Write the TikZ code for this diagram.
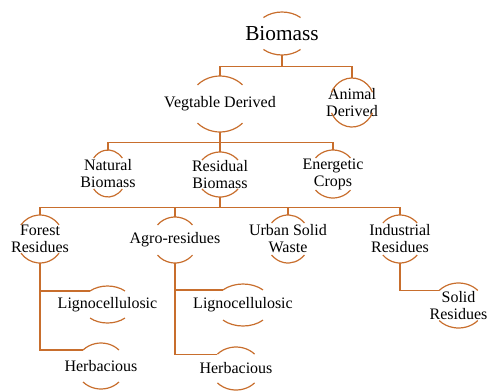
\documentclass[tikz,border=0pt]{standalone}
\usepackage{fontspec}
\setmainfont{Liberation Serif}

\definecolor{brk}{RGB}{200,110,45}
\tikzset{
  part/.style={inner sep=0pt, align=center, font=\fontsize{12}{12.75}\selectfont},
  halfh/.style={minimum height=1.5*#1pt},
  ring/.style={draw=brk, line width=0.9pt},
  link/.style={draw=brk, line width=0.9pt},
}
% node name, x radius, y radius, angle
\newcommand{\halfrings}[4]{%
  \draw[ring] (#1.center) ++(#4:#2 and #3) arc[start angle=#4, end angle=180-#4, x radius=#2, y radius=#3];
  \draw[ring] (#1.center) ++(-#4:#2 and #3) arc[start angle=-#4, end angle=-180+#4, x radius=#2, y radius=#3];
  \path (#1.center) ++(180+#4:#2 and #3) coordinate (#1-in);}

\begin{document}
\begin{tikzpicture}[x=0.75pt,y=0.75pt,yscale=-1,xscale=1]
\useasboundingbox (0,0) rectangle (488,390);

% Text Nodes
\node[part, halfh=21.5, font=\fontsize{16}{18}\selectfont] (bio) at (282,33.5) {Biomass};
\node[part, halfh=28] (veg) at (220,104) {Vegtable Derived};
\node[part, halfh=24.5] (ani) at (352,102.5) {Animal\\Derived};
\node[part, halfh=23.5] (nat) at (108,173.5) {Natural\\Biomass};
\node[part, halfh=22.5] (res) at (220,174.5) {Residual\\Biomass};
\node[part, halfh=24] (ene) at (333,174) {Energetic\\Crops};
\node[part, halfh=24] (for) at (40,239) {Forest\\Residues};
\node[part, halfh=23] (agr) at (175,240) {Agro-residues};
\node[part, halfh=24] (urb) at (288,239) {Urban Solid\\Waste};
\node[part, halfh=24] (ind) at (400,239) {Industrial\\Residues};
\node[part, halfh=22.5] (sol) at (458.5,305.5) {Solid\\Residues};
\node[part, halfh=18.5] (ligF) at (107.5,304.5) {Lignocellulosic};
\node[part, halfh=23] (herbF) at (101,366) {Herbacious};
\node[part, halfh=21] (ligA) at (243,305) {Lignocellulosic};
\node[part, halfh=21.5] (herbA) at (236,368.5) {Herbacious};

% Arcs
\halfrings{bio}{27.7}{21.5}{48}
\halfrings{veg}{30.8}{28}{43}
\halfrings{ani}{22.6}{24.5}{25}
\halfrings{nat}{19}{23.5}{41}
\halfrings{res}{23.5}{22.5}{40}
\halfrings{ene}{23.6}{24}{42}
\halfrings{for}{23.5}{24}{36}
\halfrings{agr}{23.2}{23}{41}
\halfrings{urb}{22}{24}{42}
\halfrings{ind}{23}{24}{42}
\halfrings{sol}{26}{22.5}{42}
\halfrings{ligF}{25.6}{18.5}{47}
\halfrings{herbF}{25}{23}{44}
\halfrings{ligA}{28.8}{21}{46}
\halfrings{herbA}{25}{21.5}{42}

% Connectors
\draw[link] (bio.south) -- ++(0,11) -| (veg.north);
\draw[link] (bio.south) -- ++(0,11) -| (ani.north);
\draw[link] (veg.south) -- ++(0,10) -| (nat.north);
\draw[link] (veg.south) -- ++(0,10) -| (res.north);
\draw[link] (veg.south) -- ++(0,10) -| (ene.north);
\draw[link] (res.south) -- ++(0,10) -| (for.north);
\draw[link] (res.south) -- ++(0,10) -| (agr.north);
\draw[link] (res.south) -- ++(0,10) -| (urb.north);
\draw[link] (res.south) -- ++(0,10) -| (ind.north);
\draw[link] (for.south) |- (ligF-in);
\draw[link] (for.south) |- (herbF-in);
\draw[link] (agr.south) |- (ligA-in);
\draw[link] (agr.south) |- (herbA-in);
\draw[link] (ind.south) |- (sol-in);

\end{tikzpicture}
\end{document}
